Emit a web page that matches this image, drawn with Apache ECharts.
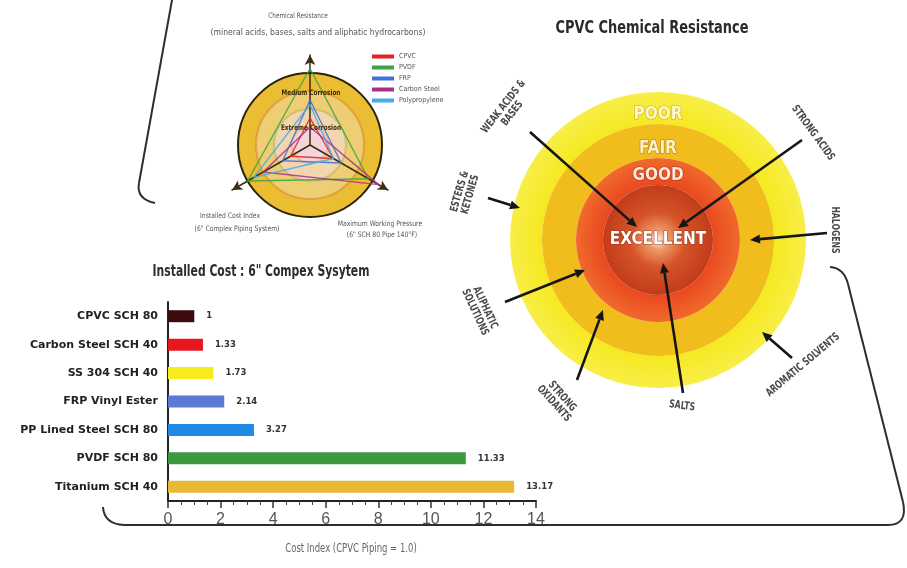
<!DOCTYPE html>
<html><head><meta charset="utf-8">
<script src="https://cdn.jsdelivr.net/npm/echarts@6/dist/echarts.min.js"></script>
<style>html,body{margin:0;padding:0;background:#fff}#c{width:907px;height:568px}</style>
</head><body><div id="c"></div>
<script>
// ---------- data ----------
const categories = ['CPVC SCH 80','Carbon Steel SCH 40','SS 304 SCH 40','FRP Vinyl Ester','PP Lined Steel SCH 80','PVDF SCH 80','Titanium SCH 40'];
const costValues = [1, 1.33, 1.73, 2.14, 3.27, 11.33, 13.17];
const barColors = ['#3c0b0e','#e8161e','#f6ec1e','#5b79d6','#1f8ae6','#3d9a3c','#e9b934'];
const xMin = 0, xMax = 14, xStep = 2;

const radarIndicators = ['Chemical Resistance','Installed Cost Index','Maximum Working Pressure'];
const radarSubtitles = ['(mineral acids, bases, salts and aliphatic hydrocarbons)','(6" Complex Piping System)','(6" SCH 80 Pipe 140°F)'];
const radarNames = ['CPVC','PVDF','FRP','Carbon Steel','Polypropylene'];
const radarColors = ['#e32222','#3aa345','#3f6fd9','#a8308a','#45a9ea'];
const radarCPVC = [30, 25, 30];
const radarPVDF = [85, 80, 75];
const radarFRP = [50, 35, 40];
const radarCarbonSteel = [20, 60, 88];
const radarPolypropylene = [45, 72, 30];
const radarValues = [radarCPVC, radarPVDF, radarFRP, radarCarbonSteel, radarPolypropylene];
const corrosionLabels = ['Medium Corrosion','Extreme Corrosion'];

const ringNames = ['POOR','FAIR','GOOD','EXCELLENT'];
const chemicals = ['WEAK ACIDS &\nBASES','STRONG ACIDS','ESTERS &\nKETONES','HALOGENS','ALIPHATIC\nSOLUTIONS','STRONG\nOXIDANTS','SALTS','AROMATIC SOLVENTS'];

// ---------- layout / style ----------
const NARROW = "'Liberation Sans Narrow','DejaVu Sans Condensed','Roboto Condensed',sans-serif";
const ringCenter = [658, 240];
const ringRadius = [[116, 148], [82, 116], [55, 82], [0, 55]];
const ringLabelOffset = [[0, 10], [0, 11], [0, 7], [0, 0]];
const ringColors = [
  {type:'radial',x:0.5,y:0.5,r:0.5,colorStops:[{offset:0.75,color:'#f6e81a'},{offset:1,color:'#f8ee48'}]},
  '#f0bd1d',
  {type:'radial',x:0.5,y:0.5,r:0.5,colorStops:[{offset:0.65,color:'#e9461f'},{offset:1,color:'#f06a2c'}]},
  {type:'radial',x:0.5,y:0.5,r:0.5,colorStops:[{offset:0,color:'#fff4ea'},{offset:0.18,color:'#ee9868'},{offset:0.5,color:'#d55428'},{offset:1,color:'#c23c1a'}]}
];
const ringText = [
  {color:'#fff7d0', border:'rgba(180,150,0,0.7)'},
  {color:'#fff0c8', border:'rgba(170,110,0,0.8)'},
  {color:'#ffe8dc', border:'rgba(160,40,10,0.8)'},
  {color:'#ffffff', border:'rgba(150,50,20,0.8)'}
];
const chemLayout = [
  {t:[508,110,52],  a:[530,132,637,227]},
  {t:[813,133,-54], a:[802,140,678,228]},
  {t:[465,193,74],  a:[488,198,520,208]},
  {t:[835,230,-90], a:[827,233,750,240]},
  {t:[480,310,-65], a:[505,302,585,270]},
  {t:[558,400,-48], a:[577,380,603,310]},
  {t:[682,406,-8],  a:[683,393,663,263]},
  {t:[803,365,40],  a:[792,358,762,332]}
];

function arrow(x1,y1,x2,y2){
  const a = Math.atan2(y2-y1, x2-x1), L = 10, w = 4.5;
  const bx = x2 - L*Math.cos(a), by = y2 - L*Math.sin(a);
  return [
    {type:'line', z:100, shape:{x1:x1,y1:y1,x2:bx,y2:by}, style:{stroke:'#151515', lineWidth:2.6}},
    {type:'polygon', z:100, shape:{points:[[x2,y2],[bx + w*Math.sin(a), by - w*Math.cos(a)],[bx - w*Math.sin(a), by + w*Math.cos(a)]]}, style:{fill:'#151515'}}
  ];
}
function txt(x,y,text,opt){
  return {type:'text', z:100, x:x, y:y, rotation:(opt.rot||0)*Math.PI/180, scaleX:(opt.sx||1),
    style:{text:text, align:'center', verticalAlign:'middle', fontFamily:opt.family||NARROW, fontSize:opt.size,
      fontWeight:opt.weight||'normal', fill:opt.color||'#333', lineHeight:opt.lh||Math.round(opt.size*1.05)}};
}

const graphics = [];
// brackets
const bStyle = {stroke:'#2e2e2e', lineWidth:2, fill:'none'};
graphics.push(
  {type:'line', shape:{x1:172,y1:0,x2:139,y2:183}, style:bStyle},
  {type:'bezierCurve', shape:{x1:139,y1:183,cpx1:136,cpy1:199,x2:155,y2:203}, style:bStyle},
  {type:'bezierCurve', shape:{x1:830,y1:267,cpx1:844,cpy1:268,x2:848,y2:284}, style:bStyle},
  {type:'line', shape:{x1:848,y1:284,x2:903,y2:502}, style:bStyle},
  {type:'bezierCurve', shape:{x1:903,y1:502,cpx1:908,cpy1:525,x2:888,y2:525}, style:bStyle},
  {type:'line', shape:{x1:888,y1:525,x2:124,y2:525}, style:bStyle},
  {type:'bezierCurve', shape:{x1:124,y1:525,cpx1:104,cpy1:524,x2:103,y2:507}, style:bStyle}
);
// titles
graphics.push(txt(652,28,'CPVC Chemical Resistance',{size:18,weight:'bold',color:'#2a2a2a',sx:0.8}));
graphics.push(txt(261,272,'Installed Cost : 6" Compex Sysytem',{size:15,weight:'bold',color:'#2c2c2c',sx:0.8}));
graphics.push(txt(351,549,'Cost Index (CPVC Piping = 1.0)',{size:11.5,color:'#666',sx:0.82}));
// radar axis names
graphics.push(txt(298,16,radarIndicators[0],{size:7.5,color:'#555',sx:0.85}));
graphics.push(txt(318,33,radarSubtitles[0],{size:9.5,color:'#555',sx:0.9}));
graphics.push(txt(230,216,radarIndicators[1],{size:7.5,color:'#555',sx:0.9}));
graphics.push(txt(237,229,radarSubtitles[1],{size:7.5,color:'#555',sx:0.9}));
graphics.push(txt(380,224,radarIndicators[2],{size:7.5,color:'#555',sx:0.9}));
graphics.push(txt(382,235,radarSubtitles[2],{size:7.5,color:'#555',sx:0.9}));
graphics.push(txt(311,93,corrosionLabels[0],{size:7.5,color:'#3a2a00',weight:'bold',sx:0.85}));
graphics.push(txt(311,128,corrosionLabels[1],{size:7.5,color:'#3a2a00',weight:'bold',sx:0.85}));
// chemical annotations
chemicals.forEach((c,i)=>{
  const L = chemLayout[i];
  graphics.push(txt(L.t[0],L.t[1],c,{size:11,weight:'bold',color:'#4a4a4a',rot:L.t[2],lh:11,sx:0.78}));
  arrow(L.a[0],L.a[1],L.a[2],L.a[3]).forEach(g=>graphics.push(g));
});

const pieSeries = ringNames.map((name,i)=>({
  type:'pie', center:ringCenter, radius:ringRadius[i], startAngle:270, silent:true,
  emphasis:{disabled:true}, labelLine:{show:false}, z:1,
  label:{show:true, position: i===3 ? 'center' : 'inside', formatter:'{b}', fontFamily:NARROW, offset:ringLabelOffset[i],
    fontWeight:'bold', fontSize:17, color:ringText[i].color, textBorderColor:ringText[i].border, textBorderWidth:1.2},
  data:[{name:name, value:1, itemStyle:{color:ringColors[i]}}]
}));

const chart = echarts.init(document.getElementById('c'), null, {renderer:'canvas'});
chart.setOption({
  animation:false,
  backgroundColor:'#ffffff',
  legend:{data:radarNames, left:367, top:48, orient:'vertical', icon:'rect', itemWidth:22, itemHeight:4, itemGap:4,
    selectedMode:false, textStyle:{fontSize:7, color:'#555', fontFamily:NARROW}},
  grid:{left:168, top:302, width:368, height:199, containLabel:false, outerBoundsMode:'none'},
  xAxis:{type:'value', min:xMin, max:xMax, interval:xStep,
    axisLine:{show:true, lineStyle:{color:'#222', width:2}},
    axisTick:{show:true, length:7, lineStyle:{color:'#333', width:1.5}},
    minorTick:{show:true, splitNumber:4, length:4, lineStyle:{color:'#444', width:1}},
    splitLine:{show:false},
    axisLabel:{fontSize:16, color:'#555', margin:11, fontFamily:"'Liberation Sans',sans-serif"}},
  yAxis:{type:'category', data:categories, inverse:true,
    axisLine:{show:true, lineStyle:{color:'#222', width:2}},
    axisTick:{show:false},
    axisLabel:{fontSize:11, fontWeight:'bold', color:'#222', margin:10, fontFamily:"'DejaVu Sans',sans-serif"}},
  radar:{center:[310,145], radius:90, shape:'circle', splitNumber:5, startAngle:90,
    indicator: radarIndicators.map(n=>({name:n, max:100})),
    axisName:{show:false},
    axisLine:{symbol:['none','arrow'], symbolSize:[8,10], lineStyle:{color:'#3b2c12', width:1.5}},
    axisTick:{show:false}, axisLabel:{show:false},
    splitLine:{lineStyle:{width:2, color:['rgba(0,0,0,0)','rgba(215,140,90,0.35)','rgba(150,175,60,0.45)','rgba(215,130,40,0.55)','#2b2308','rgba(0,0,0,0)']}},
    splitArea:{show:true, areaStyle:{color:['#f3d6dc','#f2d6b0','#efcd72','#ebbd33','rgba(0,0,0,0)']}}
  },
  graphic: graphics,
  series:[
    {type:'bar', name:'Installed Cost', barWidth:12, z:3,
      data: costValues.map((v,i)=>({value:v, itemStyle:{color:barColors[i]}})),
      label:{show:true, position:'right', distance:12, fontSize:8.5, fontWeight:'bold', color:'#333', fontFamily:"'DejaVu Sans',sans-serif"}},
    {type:'radar', symbol:'none', silent:true, z:4,
      data: radarNames.map((n,i)=>({name:n, value:radarValues[i], itemStyle:{color:radarColors[i]}, lineStyle:{color:radarColors[i], width:1.4, opacity:0.85}, areaStyle:{opacity:0}}))}
  ].concat(pieSeries)
});
</script></body></html>
